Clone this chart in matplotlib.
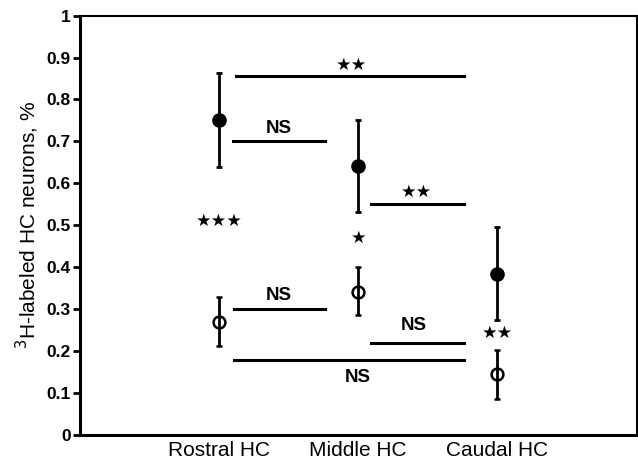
import matplotlib.pyplot as plt
import numpy as np

# =========================
# Data
# =========================
regions = ["Rostral HC", "Middle HC", "Caudal HC"]
filled_mean = [0.752, 0.642, 0.385]
filled_lo = [0.640, 0.532, 0.275]
filled_hi = [0.862, 0.752, 0.495]
open_mean = [0.270, 0.342, 0.145]
open_lo = [0.212, 0.285, 0.085]
open_hi = [0.330, 0.400, 0.203]

# comparison bars: (x start, x end, y, label, label x, label y)
bar_x0 = [1.12, 1.10, 2.09, 1.11, 2.09, 1.11]
bar_x1 = [2.76, 1.76, 2.76, 1.76, 2.76, 2.76]
bar_y = [0.857, 0.700, 0.550, 0.300, 0.220, 0.178]
bar_text = ["★★", "NS", "★★", "NS", "NS", "NS"]
bar_tx = [1.95, 1.43, 2.42, 1.43, 2.40, 2.00]
bar_ty = [0.882, 0.730, 0.580, 0.332, 0.260, 0.138]

# within-region significance
star_text = ["★★★", "★", "★★"]
star_x = [1.0, 2.0, 3.0]
star_y = [0.510, 0.470, 0.243]

plt.rcParams['font.family'] = ['Liberation Sans', 'DejaVu Sans']

fig = plt.figure(figsize=(6.38, 4.66), dpi=100)
ax = fig.add_axes([0.125, 0.0665, 0.873, 0.9])

x = np.arange(1, len(regions) + 1)
ax.errorbar(x, filled_mean,
            yerr=[np.array(filled_mean) - filled_lo, np.array(filled_hi) - filled_mean],
            fmt='o', color='black', ms=9.5, elinewidth=2, capsize=2.5, capthick=2)
ax.errorbar(x, open_mean,
            yerr=[np.array(open_mean) - open_lo, np.array(open_hi) - open_mean],
            fmt='o', color='black', mfc='none', mew=1.8, ms=8.5, elinewidth=2,
            capsize=2.5, capthick=2)

for x0, x1, y in zip(bar_x0, bar_x1, bar_y):
    ax.plot([x0, x1], [y, y], color='black', lw=2.2)

for t, tx, ty in zip(bar_text, bar_tx, bar_ty):
    if t.startswith("★"):
        ax.text(tx, ty, t, ha='center', va='center', fontsize=12.5, family='DejaVu Sans')
    else:
        ax.text(tx, ty, t, ha='center', va='center', fontsize=13.5, fontweight='bold')

for t, sx, sy in zip(star_text, star_x, star_y):
    ax.text(sx, sy, t, ha='center', va='center', fontsize=12.5, family='DejaVu Sans')

ax.set_xlim(0, 4)
ax.set_ylim(0, 1)
ax.set_yticks(np.arange(0, 1.01, 0.1))
ax.set_yticklabels(["0", "0.1", "0.2", "0.3", "0.4", "0.5", "0.6", "0.7", "0.8", "0.9", "1"],
                   fontsize=12.5, fontweight='bold')
ax.set_xticks(x)
ax.set_xticklabels(regions, fontsize=15)
ax.tick_params(axis='x', length=0, pad=4)
ax.tick_params(axis='y', direction='out', length=5, width=2, pad=1.5)
ax.set_ylabel("$^{3}$H-labeled HC neurons, %", fontsize=15, labelpad=4)
for s in ['left', 'bottom']:
    ax.spines[s].set_linewidth(2.2)
for s in ['top', 'right']:
    ax.spines[s].set_linewidth(1.5)

plt.savefig("out.png", dpi=100)
